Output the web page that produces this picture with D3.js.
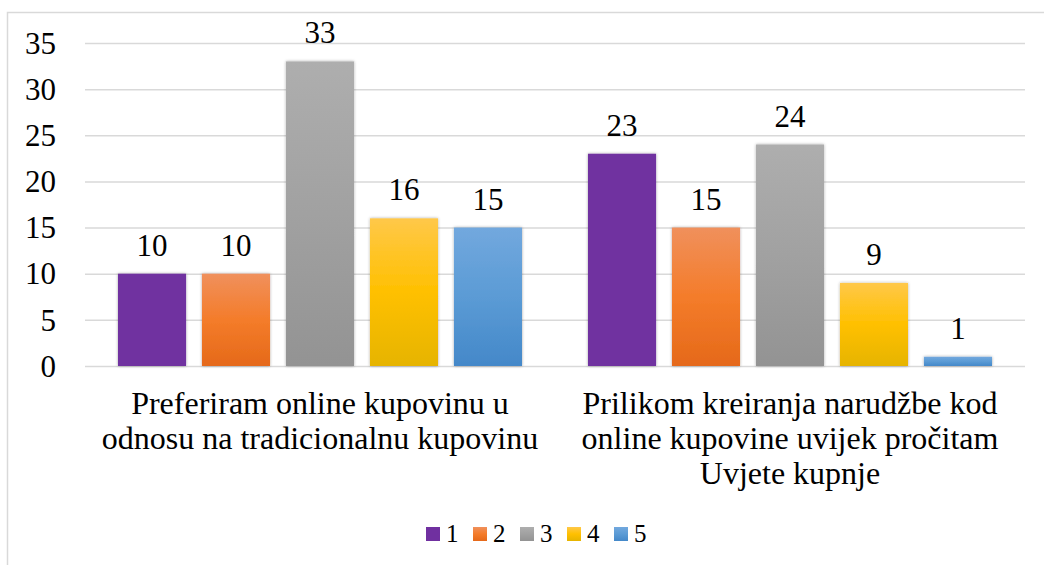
<!DOCTYPE html>
<html><head><meta charset="utf-8">
<script src="https://cdn.jsdelivr.net/npm/d3@7"></script>
</head><body style="margin:0">
<svg id="c" width="1044" height="565" style="display:block;font-family:'Liberation Serif'"></svg>
<script>
const categories = [
  ["Preferiram online kupovinu u", "odnosu na tradicionalnu kupovinu"],
  ["Prilikom kreiranja narudžbe kod", "online kupovine uvijek pročitam", "Uvjete kupnje"]
];
const seriesNames = ["1", "2", "3", "4", "5"];
const series1 = [10, 23];
const series2 = [10, 15];
const series3 = [33, 24];
const series4 = [16, 9];
const series5 = [15, 1];
const yTicks = [0, 5, 10, 15, 20, 25, 30, 35];
const seriesValues = [series1, series2, series3, series4, series5];
const gradStops = [
  ["#7030A0", "#7030A0", "#7030A0"],
  ["#F0905C", "#F47C2A", "#E5691A"],
  ["#AEAEAE", "#A1A1A1", "#939393"],
  ["#FFC849", "#FFC000", "#E6B400"],
  ["#72A8DE", "#5B9BD5", "#4488C9"]
];

const FONT = '"Liberation Serif"';
const svg = d3.select("#c");
const defs = svg.append("defs");
gradStops.forEach((s, i) => {
  const g = defs.append("linearGradient").attr("id", "g" + i).attr("x1", 0).attr("y1", 0).attr("x2", 0).attr("y2", 1);
  g.append("stop").attr("offset", "0%").attr("stop-color", s[0]);
  g.append("stop").attr("offset", "50%").attr("stop-color", s[1]);
  g.append("stop").attr("offset", "100%").attr("stop-color", s[2]);
});
const f = defs.append("filter").attr("id", "sh").attr("x", "-20%").attr("y", "-20%").attr("width", "140%").attr("height", "140%");
f.append("feDropShadow").attr("dx", 0).attr("dy", 0).attr("stdDeviation", 1.6).attr("flood-color", "#000").attr("flood-opacity", 0.35);

// border
svg.append("path").attr("d", "M7.5,565 V12.5 H1044").attr("fill", "none").attr("stroke", "#D9D9D9").attr("stroke-width", 1.5);

const x0 = d3.scaleBand().domain(d3.range(categories.length)).range([85, 1025]);
const x1 = d3.scaleBand().domain(d3.range(seriesNames.length)).range([33, x0.bandwidth() - 33]).paddingInner(0.19);
const y = d3.scaleLinear().domain([0, 35]).range([366, 43]);

const yAxis = d3.axisLeft(y).tickValues(yTicks).tickSize(-(1025 - 85)).tickPadding(29);
const ga = svg.append("g").attr("transform", "translate(85,0)").call(yAxis);
ga.attr("font-family", FONT).attr("font-size", 31);
ga.select(".domain").remove();
ga.selectAll(".tick line").attr("stroke", "#D9D9D9").attr("stroke-width", 1.5);
ga.selectAll(".tick text").style("font-family", FONT).style("font-size", "31px").attr("fill", "#000").attr("dy", "0.33em");

const groups = svg.append("g").selectAll("g").data(categories).join("g")
  .attr("transform", (d, i) => `translate(${x0(i)},0)`);
groups.each(function (c, ci) {
  const g = d3.select(this);
  seriesValues.forEach((vals, si) => {
    const v = vals[ci];
    g.append("rect").attr("x", x1(si)).attr("width", x1.bandwidth())
      .attr("y", y(v)).attr("height", y(0) - y(v))
      .attr("fill", `url(#g${si})`).attr("filter", "url(#sh)");
    g.append("text").attr("x", x1(si) + x1.bandwidth() / 2).attr("y", y(v) - 18)
      .attr("text-anchor", "middle").style("font-family", FONT).style("font-size", "31px").attr("fill", "#000").text(v);
  });
  const t = g.append("text").attr("text-anchor", "middle").style("font-family", FONT).style("font-size", "32px").attr("fill", "#000");
  c.forEach((line, li) => {
    t.append("tspan").attr("x", x0.bandwidth() / 2).attr("y", 414 + li * 35).text(line);
  });
});

// legend
const leg = svg.append("g");
const legX = d3.scalePoint().domain(seriesNames).range([426, 614]);
seriesNames.forEach((n, i) => {
  leg.append("rect").attr("x", legX(n)).attr("y", 527).attr("width", 14).attr("height", 14).attr("fill", `url(#g${i})`);
  leg.append("text").attr("x", legX(n) + 20).attr("y", 542).style("font-family", FONT).style("font-size", "25px").attr("fill", "#000").text(n);
});
</script>
</body></html>
